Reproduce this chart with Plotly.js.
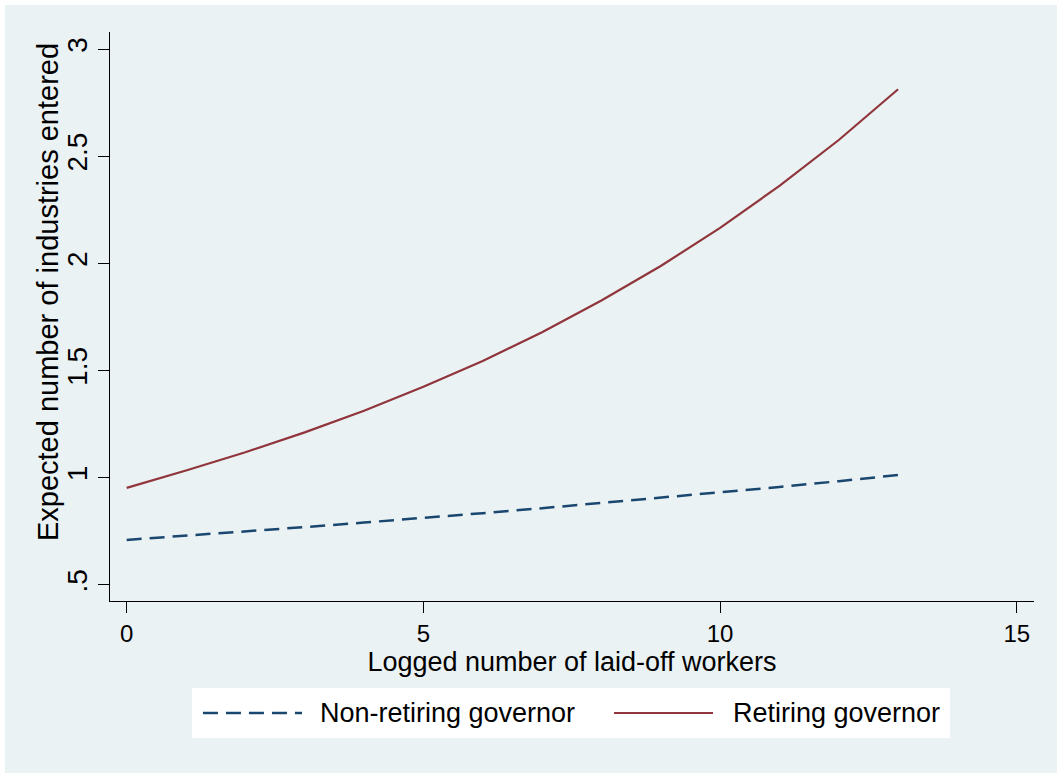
<!DOCTYPE html>
<html>
<head>
<meta charset="utf-8">
<script src="https://cdn.plot.ly/plotly-3.0.1.min.js"></script>
<style>html,body{margin:0;padding:0;background:#fff;}#chart{width:1058px;height:774px;}</style>
</head>
<body>
<div id="chart"></div>
<script>
const xValues = [0, 1, 2, 3, 4, 5, 6, 7, 8, 9, 10, 11, 12, 13];
const nonRetiring = [0.710, 0.729, 0.749, 0.770, 0.791, 0.812, 0.835, 0.858, 0.882, 0.906, 0.931, 0.957, 0.984, 1.013];
const retiring = [0.953, 1.034, 1.119, 1.212, 1.313, 1.425, 1.545, 1.679, 1.827, 1.988, 2.166, 2.362, 2.576, 2.813];
const seriesNames = ["Non-retiring governor", "Retiring governor"];
const yTickVals = [0.5, 1, 1.5, 2, 2.5, 3];
const yTickText = [".5", "1", "1.5", "2", "2.5", "3"];
const xTickVals = [0, 5, 10, 15];
const xTickText = ["0", "5", "10", "15"];
const xTitle = "Logged number of laid-off workers";
const yTitle = "Expected number of industries entered";

const navy = "#1a476f";
const maroon = "#90353b";
const bg = "#eaf2f3";
const font = "Liberation Sans, Arial, sans-serif";

const traces = [
  {x: xValues, y: nonRetiring, name: seriesNames[0], type: "scatter", mode: "lines",
   line: {color: navy, width: 2.5, dash: "15px,8px"}, showlegend: false, hoverinfo: "skip"},
  {x: xValues, y: retiring, name: seriesNames[1], type: "scatter", mode: "lines",
   line: {color: maroon, width: 2.2}, showlegend: false, hoverinfo: "skip"}
];

const layout = {
  width: 1058, height: 774,
  margin: {l: 110, r: 24, t: 32, b: 173},
  paper_bgcolor: "#ffffff",
  plot_bgcolor: "#ffffff",
  font: {family: font, color: "#000"},
  xaxis: {
    range: [-0.281, 15.29],
    tickvals: xTickVals, ticktext: xTickText,
    ticks: "outside", ticklen: 11, tickwidth: 1, tickcolor: "#000",
    showline: true, linecolor: "#000", linewidth: 1, mirror: false,
    showgrid: false, zeroline: false,
    tickfont: {family: font, size: 24, color: "#000"},
    title: {text: xTitle, font: {family: font, size: 27, color: "#000"}, standoff: 1},
    automargin: false
  },
  yaxis: {
    range: [0.425, 3.08],
    tickvals: yTickVals, ticktext: yTickText, tickangle: -90,
    ticks: "outside", ticklen: 11, tickwidth: 1, tickcolor: "#000",
    showline: true, linecolor: "#000", linewidth: 1, mirror: false,
    showgrid: true, gridcolor: bg, gridwidth: 2.5, zeroline: false,
    tickfont: {family: font, size: 28, color: "#000"},
    automargin: false
  },
  shapes: [
    {type: "rect", xref: "paper", yref: "paper", x0: -0.1136, x1: 1.0249, y0: -0.3023, y1: 1.0475,
     fillcolor: bg, line: {width: 0}, layer: "below"},
    {type: "rect", xref: "paper", yref: "paper", x0: 0.0887, x1: 0.9091, y0: -0.2408, y1: -0.1529,
     fillcolor: "#ffffff", line: {width: 0}, layer: "above"},
    {type: "line", xref: "paper", yref: "paper", x0: 0.1006, x1: 0.2078, y0: -0.1968, y1: -0.1968,
     line: {color: navy, width: 2.5, dash: "15px,8px"}},
    {type: "line", xref: "paper", yref: "paper", x0: 0.5455, x1: 0.6526, y0: -0.1968, y1: -0.1968,
     line: {color: maroon, width: 2.2}}
  ],
  annotations: [
    {xref: "paper", yref: "paper", x: -0.0671, y: 0.543, xanchor: "center", yanchor: "middle",
     textangle: -90, text: yTitle, showarrow: false, font: {family: font, size: 29, color: "#000"}},
    {xref: "paper", yref: "paper", x: 0.2251, y: -0.1968, xanchor: "left", yanchor: "middle",
     text: seriesNames[0], showarrow: false, font: {family: font, size: 27, color: "#000"}},
    {xref: "paper", yref: "paper", x: 0.6721, y: -0.1968, xanchor: "left", yanchor: "middle",
     text: seriesNames[1], showarrow: false, font: {family: font, size: 27, color: "#000"}}
  ]
};

Plotly.newPlot("chart", traces, layout, {displayModeBar: false, staticPlot: true});
</script>
</body>
</html>
